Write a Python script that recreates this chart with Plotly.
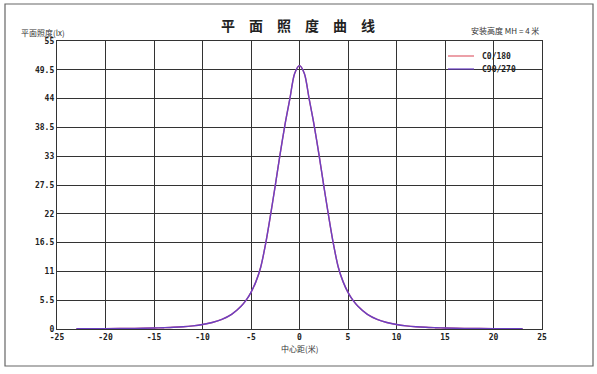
import plotly.graph_objects as go

# ---- data ----
distance = [-23, -20, -17, -15, -14, -13, -12, -11, -10, -9, -8, -7, -6, -5.5, -5, -4.5, -4,
            -3.5, -3, -2.5, -2, -1.5, -1, -0.5, 0, 0.5, 1, 1.5, 2, 2.5, 3, 3.5, 4, 4.5,
            5, 5.5, 6, 7, 8, 9, 10, 11, 12, 13, 14, 15, 17, 20, 23]
c0_180 = [0.04, 0.07, 0.12, 0.19, 0.25, 0.32, 0.43, 0.6, 0.85, 1.25, 1.85, 2.8, 4.4, 5.5, 7.0, 9.0, 11.8,
          16.2, 21.6, 27.4, 33.4, 39.0, 43.9, 48.8, 50.3, 48.8, 43.9, 39.0, 33.4, 27.4, 21.6, 16.2, 11.8, 9.0,
          7.0, 5.5, 4.4, 2.8, 1.85, 1.25, 0.85, 0.6, 0.43, 0.32, 0.25, 0.19, 0.12, 0.07, 0.04]
c90_270 = [0.04, 0.07, 0.12, 0.19, 0.25, 0.32, 0.43, 0.6, 0.85, 1.25, 1.85, 2.8, 4.4, 5.5, 7.0, 9.0, 11.8,
           16.2, 21.6, 27.4, 33.4, 39.0, 43.9, 48.8, 50.3, 48.8, 43.9, 39.0, 33.4, 27.4, 21.6, 16.2, 11.8, 9.0,
           7.0, 5.5, 4.4, 2.8, 1.85, 1.25, 0.85, 0.6, 0.43, 0.32, 0.25, 0.19, 0.12, 0.07, 0.04]
series_names = ["C0/180", "C90/270"]
series_colors = ["#e0606e", "#6a3fc4"]
x_ticks = [-25, -20, -15, -10, -5, 0, 5, 10, 15, 20, 25]
y_ticks = [0, 5.5, 11, 16.5, 22, 27.5, 33, 38.5, 44, 49.5, 55]
y_tick_labels = ["0", "5.5", "11", "16.5", "22", "27.5", "33", "38.5", "44", "49.5", "55"]

title_text = "平　面　照　度　曲　线"
y_title = "平面照度(lx)"
x_title = "中心距(米)"
mh_text = "安装高度 MH = 4 米"

W, H = 597, 374
L, R, T, B = 57, 542, 41, 329

tick_font = dict(family="DejaVu Sans Mono", size=8, color="#222", weight="bold")
cjk = "Noto Sans CJK SC"

fig = go.Figure()
for name, vals, col in zip(series_names, [c0_180, c90_270], series_colors):
    fig.add_trace(go.Scatter(x=distance, y=vals, mode="lines", name=name, showlegend=False,
                             line=dict(color=col, width=1.4, shape="spline", smoothing=0.8)))

pw = R - L
ph = B - T
def px(x):
    return (x - L) / pw
def py(y):
    return (B - y) / ph

shapes = [dict(type="rect", xref="paper", yref="paper",
               x0=px(5), x1=px(593), y0=py(366), y1=py(4),
               line=dict(color="#666", width=1.2), fillcolor="rgba(0,0,0,0)", layer="below")]
annotations = [
    dict(text=title_text, xref="paper", yref="paper", x=px(298), y=py(25),
         xanchor="center", yanchor="middle", showarrow=False,
         font=dict(family=cjk, size=14, color="#222", weight="bold")),
    dict(text=y_title, xref="paper", yref="paper", x=px(19), y=py(32),
         xanchor="left", yanchor="middle", showarrow=False,
         font=dict(family=cjk, size=8, color="#333")),
    dict(text=mh_text, xref="paper", yref="paper", x=px(541), y=py(31),
         xanchor="right", yanchor="middle", showarrow=False,
         font=dict(family=cjk, size=8, color="#333")),
    dict(text=x_title, xref="paper", yref="paper", x=px(299), y=py(348),
         xanchor="center", yanchor="middle", showarrow=False,
         font=dict(family=cjk, size=8, color="#333")),
]
# legend drawn manually (compact spacing like the reference)
for i, (name, col) in enumerate(zip(series_names, series_colors)):
    yy = 56 + 13 * i
    shapes.append(dict(type="line", xref="paper", yref="paper",
                       x0=px(448), x1=px(474), y0=py(yy), y1=py(yy),
                       line=dict(color=col, width=1.2)))
    annotations.append(dict(text=name, xref="paper", yref="paper", x=px(480), y=py(yy),
                            xanchor="left", yanchor="middle", showarrow=False,
                            font=dict(family="DejaVu Sans Mono", size=8, color="#222", weight="bold")))

fig.update_layout(
    width=W, height=H,
    margin=dict(l=L, r=W - R, t=T, b=H - B, pad=0),
    paper_bgcolor="white", plot_bgcolor="white",
    showlegend=False,
    xaxis=dict(range=[-25, 25], tickvals=x_ticks, ticktext=[str(v) for v in x_ticks],
               showgrid=True, gridcolor="#333", gridwidth=1.3, zeroline=False,
               showline=True, linecolor="#333", linewidth=1.3, mirror=True,
               ticks="", tickfont=tick_font, fixedrange=True),
    yaxis=dict(range=[0, 55], tickvals=y_ticks, ticktext=y_tick_labels,
               showgrid=True, gridcolor="#333", gridwidth=1.3, zeroline=False,
               showline=True, linecolor="#333", linewidth=1.3, mirror=True,
               ticks="", tickfont=tick_font, fixedrange=True),
    shapes=shapes,
    annotations=annotations,
)

fig.write_html("out.html", config={"displayModeBar": False},
               post_script="document.body.style.margin='0';")
